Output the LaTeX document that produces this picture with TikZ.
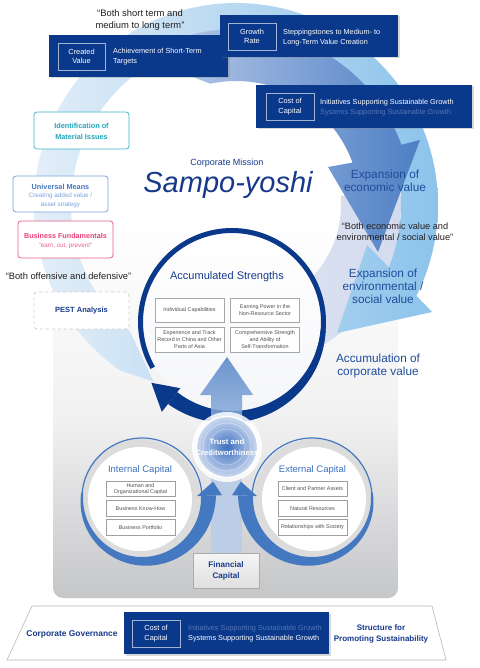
\documentclass[tikz,border=0pt]{standalone}
\usepackage{fontspec}
\setmainfont{Liberation Sans}
\usetikzlibrary{shadows}
\definecolor{navy}{HTML}{0A388A}
\definecolor{navytxt}{HTML}{17398C}
\definecolor{exptxt}{HTML}{1E4D9C}
\definecolor{fadetxt}{HTML}{5676B8}
\definecolor{capblue}{HTML}{3E71BC}
\definecolor{swoosh}{HTML}{4479C2}
\definecolor{teal1}{HTML}{3DB6C8}
\definecolor{tealtxt}{HTML}{1FA5BA}
\definecolor{umblue}{HTML}{7BA3DD}
\definecolor{umtxt}{HTML}{4676C0}
\definecolor{pink1}{HTML}{EA5F86}
\definecolor{pinktxt}{HTML}{E4407A}
\definecolor{quote}{HTML}{231F20}
\definecolor{boxgray}{HTML}{A8A8A8}
\definecolor{smalltxt}{HTML}{505050}
\definecolor{panelmid}{HTML}{F1F1F2}
\definecolor{panelbot}{HTML}{C5C6C8}
\definecolor{lbA}{HTML}{E3EEF8}
\definecolor{lbB}{HTML}{8CC3EB}
\definecolor{dbA}{HTML}{B3C7E8}
\definecolor{dbB}{HTML}{4E7FC4}
\definecolor{pbA}{HTML}{E2E7F3}
\definecolor{pbB}{HTML}{D3DBEE}
\definecolor{upA}{HTML}{5484C6}
\definecolor{upB}{HTML}{8FB0DD}
\definecolor{shaft}{HTML}{BCCDE8}
\definecolor{trustIn}{HTML}{3D6FC0}
\definecolor{trustOut}{HTML}{CAD8EF}
\definecolor{ringgray}{HTML}{DCDCDC}
\definecolor{ringin}{HTML}{F5F6F9}
\newcommand\myfs[2]{\fontsize{#1}{#2}\selectfont}
\begin{document}
\begin{tikzpicture}[x=1pt,y=-1pt,
  navybox/.style={fill=navy, inner sep=0pt, outer sep=0pt, drop shadow={opacity=0.3,shadow xshift=1.5pt,shadow yshift=-1.5pt}},
  innerbox/.style={draw=white!62!navy, line width=0.7pt, inner sep=0pt, text=white, align=center, font=\myfs{7.4}{9.4}},
  boxtxt/.style={text=white, align=left, anchor=west, inner sep=0pt, font=\myfs{7.3}{10}},
  leftbox/.style={fill=white, rounded corners=3pt, line width=0.8pt, inner sep=0pt},
  strbox/.style={draw=boxgray, fill=white, line width=0.5pt, inner sep=0pt, minimum width=69pt, align=center, text=smalltxt, font=\myfs{5.4}{6.6}},
  capbox/.style={draw=gray!75, fill=white, line width=0.6pt, inner sep=0pt, minimum width=69pt, minimum height=15.5pt, align=center, text=smalltxt, font=\myfs{5.4}{6.4}},
  lbl/.style={inner sep=0pt, align=center},
]
\useasboundingbox (0,0) rectangle (479,668);
\fill[white] (0,0) rectangle (479,668);

% grey panel
\begin{scope}
\clip[rounded corners=10pt] (53,215) rectangle (398,598);
\shade[top color=white, bottom color=panelmid] (53,215) rectangle (398,420.5);
\shade[top color=panelmid, bottom color=panelbot] (53,420) rectangle (398,598);
\end{scope}

% pale band (continuation of the inner arrow)
\shade[left color=pbA, right color=pbB] plot[domain=-5:105, samples=60, variable=\t] ({236+165*cos(\t)},{205+165*sin(\t)}) -- plot[domain=105:-5, samples=60, variable=\t] ({236+105*cos(\t)},{205+105*sin(\t)}) -- cycle;

% light swirl band
\shade[left color=lbA, right color=lbB] (153.6,381.7) -- plot[domain=125:386.7, samples=100, variable=\t] ({236+202*cos(\t)},{205+202*sin(\t)}) -- (432,312) -- (337,333) -- (367,245) -- plot[domain=382.2:130, samples=100, variable=\t] ({236+165*cos(\t)},{205+165*sin(\t)}) -- cycle;

% darker swirl arrow
\shade[left color=dbA, right color=dbB] ({236+150*cos(245)},{205+150*sin(245)}) -- plot[domain=252:340, samples=60, variable=\t] ({236+176*cos(\t)},{205+176*sin(\t)}) -- (420,140) -- (378,252) -- (328,167) -- plot[domain=340:258, samples=60, variable=\t] ({236+124*cos(\t)},{205+124*sin(\t)}) -- cycle;

% navy ring
\shade[top color=white, bottom color=ringin] (232,322) circle[radius=89];
\draw[navy, line width=5pt] plot[domain=150:380, samples=100, variable=\t] ({232+91.5*cos(\t)},{322+91.5*sin(\t)});
\fill[navy] plot[domain=5:128, samples=60, variable=\t] ({232+(94+10*(\t-5)/123)*cos(\t)},{322+(94+10*(\t-5)/123)*sin(\t)}) -- plot[domain=128:5, samples=60, variable=\t] ({232+89*cos(\t)},{322+89*sin(\t)}) -- cycle;
\fill[navy] ({232+84*cos(128)},{322+84*sin(128)}) -- ({232+114*cos(128)},{322+114*sin(128)}) -- ({232+101*cos(143)},{322+101*sin(143)}) -- cycle;

% mission
\node[lbl, text=navytxt, font=\myfs{9}{11}] (cm) at (227,163) {Corporate Mission};
\node[lbl, text=navytxt, font=\itshape\myfs{29}{32}] (sy) at (228,185) {Sampo-yoshi};

% accumulated strengths
\node[lbl, text=navytxt, font=\myfs{11}{13}] (as) at (227,277) {Accumulated Strengths};
\node[strbox, minimum height=24pt] (s1) at (189.5,310) {Individual Capabilities};
\node[strbox, minimum height=24pt] (s2) at (265,310) {Earning Power in the\\Non-Resource Sector};
\node[strbox, minimum height=25pt] (s3) at (189.5,339.5) {Experience and Track\\Record in China and Other\\Parts of Asia};
\node[strbox, minimum height=25pt] (s4) at (265,339.5) {Comprehensive Strength\\and Ability of\\Self-Transformation};

% central up arrow
\fill[shaft] (211,470) rectangle (242,553);
\shade[top color=upA, bottom color=upB, opacity=0.85] (211,425) -- (211,395) -- (200,395) -- (227,357) -- (253,395) -- (242,395) -- (242,425) -- cycle;

% internal capital
\fill[ringgray] (140,499) circle[radius=60];
\fill[white] (140,499) circle[radius=52];
\draw[swoosh, line width=1.2pt] plot[domain=5:-178, samples=70, variable=\t] ({142+60*cos(\t)},{498+60*sin(\t)});
\fill[swoosh] plot[domain=185:-2, samples=70, variable=\t] ({142+(61+13*(185-\t)/187)*cos(\t)},{498+(61+13*(185-\t)/187)*sin(\t)}) -- plot[domain=-2:185, samples=70, variable=\t] ({142+59*cos(\t)},{498+59*sin(\t)}) -- cycle;
\fill[swoosh] ({142+55*cos(-2)},{498+55*sin(-2)}) -- ({142+80*cos(-2)},{498+80*sin(-2)}) -- ({142+73*cos(-13)},{498+73*sin(-13)}) -- cycle;
\node[lbl, text=capblue, font=\myfs{9.5}{11}] (ic) at (140,470) {Internal Capital};
\node[capbox] (i1) at (140.5,489) {Human and\\Organizational Capital};
\node[capbox] (i2) at (140.5,508.5) {Business Know-How};
\node[capbox] (i3) at (140.5,527.5) {Business Portfolio};

% external capital
\fill[ringgray] (314,499) circle[radius=60];
\fill[white] (314,499) circle[radius=52];
\draw[swoosh, line width=1.2pt] plot[domain=175:358, samples=70, variable=\t] ({312+60*cos(\t)},{498+60*sin(\t)});
\fill[swoosh] plot[domain=-5:182, samples=70, variable=\t] ({312+(61+13*(\t+5)/187)*cos(\t)},{498+(61+13*(\t+5)/187)*sin(\t)}) -- plot[domain=182:-5, samples=70, variable=\t] ({312+59*cos(\t)},{498+59*sin(\t)}) -- cycle;
\fill[swoosh] ({312+55*cos(182)},{498+55*sin(182)}) -- ({312+80*cos(182)},{498+80*sin(182)}) -- ({312+73*cos(193)},{498+73*sin(193)}) -- cycle;
\node[lbl, text=capblue, font=\myfs{9.5}{11}] (ec) at (312.5,470) {External Capital};
\node[capbox] (e1) at (312.5,489) {Client and Partner Assets};
\node[capbox] (e2) at (312.5,508.5) {Natural Resources};
\node[capbox] (e3) at (312.5,527.5) {Relationships with Society};

% trust circle
\fill[white, opacity=0.85] (227,447) circle[radius=35];
\shade[inner color=trustIn, outer color=trustOut] (227,447) circle[radius=30];
\draw[white, opacity=0.35, line width=0.8pt] (227,447) circle[radius=24] (227,447) circle[radius=18];
\draw[white, line width=1.2pt] (227,447) circle[radius=30.5];
\node[lbl, text=white, font=\bfseries\myfs{7.7}{11.5}] (tc) at (227,447) {Trust and\\Creditworthiness};

% financial capital
\shade[top color=gray!8, bottom color=gray!25] (193,553) rectangle (259,588);
\node[draw=gray!65, line width=0.8pt, minimum width=66pt, minimum height=35pt, inner sep=0pt] (fcbox) at (226,570.5) {};
\node[lbl, text=navytxt, font=\bfseries\myfs{8.1}{11}] (fc) at (226,571) {Financial\\Capital};

% right texts
\node[lbl, text=exptxt, font=\myfs{11.8}{13}] (eco) at (385,181) {Expansion of\\economic value};
\node[lbl, text=quote, font=\myfs{9.2}{11}] (q3) at (395,232) {“Both economic value and\\environmental / social value”};
\node[lbl, text=exptxt, font=\myfs{11.8}{13}] (env) at (383,286.5) {Expansion of\\environmental /\\social value};
\node[lbl, text=exptxt, font=\myfs{11.8}{13}] (acc) at (378,366) {Accumulation of\\corporate value};

% left boxes
\node[leftbox, draw=teal1, minimum width=95pt, minimum height=37pt] (matbox) at (81.5,130.5) {};
\node[lbl, text=tealtxt, font=\bfseries\myfs{7.3}{10.5}] (mattxt) at (81.5,131.5) {Identification of\\Material Issues};
\node[leftbox, draw=umblue, minimum width=95pt, minimum height=36pt] (umbox) at (60.5,194) {};
\node[lbl, text=umtxt, font=\bfseries\myfs{7.3}{9}] (umtit) at (60.5,186.5) {Universal Means};
\node[lbl, text=umblue, font=\myfs{6.3}{8.3}] (umsub) at (60.5,200.5) {Creating added value /\\asset strategy};
\node[leftbox, draw=pink1, minimum width=95pt, minimum height=37pt] (bfbox) at (65.5,239.5) {};
\node[lbl, text=pinktxt, font=\bfseries\myfs{7.2}{9}] (bftit) at (65.5,236) {Business Fundamentals};
\node[lbl, text=pink1, font=\myfs{6.3}{8}] (bfsub) at (65.5,245.5) {“earn, cut, prevent”};
\node[lbl, text=quote, font=\myfs{9.3}{11}] (q2) at (68.5,276) {“Both offensive and defensive”};
\node[leftbox, draw=gray!40, dashed, minimum width=95pt, minimum height=37pt] (pestbox) at (81.5,310.5) {};
\node[lbl, text=navytxt, font=\bfseries\myfs{7.5}{9}] (pest) at (81.5,310.5) {PEST Analysis};

% top quote
\node[lbl, text=quote, font=\myfs{9.4}{12}] (q1) at (140,20) {“Both short term and\\medium to long term”};

% navy boxes at top
\node[navybox, minimum width=179pt, minimum height=42pt] (cvbox) at (138.5,56) {};
\node[innerbox, minimum width=47pt, minimum height=27pt] (cvin) at (81.5,56.5) {Created\\Value};
\node[boxtxt] (cvtxt) at (113,57) {Achievement of Short-Term\\Targets};

\node[navybox, minimum width=178pt, minimum height=42pt] (grbox) at (309,36) {};
\node[innerbox, minimum width=48pt, minimum height=27pt] (grin) at (252,36.5) {Growth\\Rate};
\node[boxtxt] (grtxt) at (283,37.5) {Steppingstones to Medium- to\\Long-Term Value Creation};

\node[navybox, minimum width=216pt, minimum height=43pt] (cctop) at (364,106.5) {};
\node[innerbox, minimum width=48pt, minimum height=27pt] (ccin) at (290,106.5) {Cost of\\Capital};
\node[boxtxt] (cctxt) at (320,107.5) {Initiatives Supporting Sustainable Growth\\\textcolor{fadetxt}{Systems Supporting Sustainable Growth}};

% bottom base
\draw[gray!55, fill=white, line width=0.6pt] (32,606) -- (432,606) -- (446,660) -- (7,660) -- cycle;
\node[lbl, text=navytxt, font=\bfseries\myfs{8.4}{10}] (cg) at (72,634) {Corporate Governance};
\node[lbl, text=navytxt, font=\bfseries\myfs{8}{10.5}] (sps) at (381,634) {Structure for\\Promoting Sustainability};
\node[navybox, minimum width=205pt, minimum height=42pt] (ccbot) at (226.5,633) {};
\node[innerbox, minimum width=48pt, minimum height=27pt] (ccbin) at (156,633.5) {Cost of\\Capital};
\node[boxtxt] (ccbtxt) at (188,634) {\textcolor{fadetxt}{Initiatives Supporting Sustainable Growth}\\Systems Supporting Sustainable Growth};
\end{tikzpicture}
\end{document}
